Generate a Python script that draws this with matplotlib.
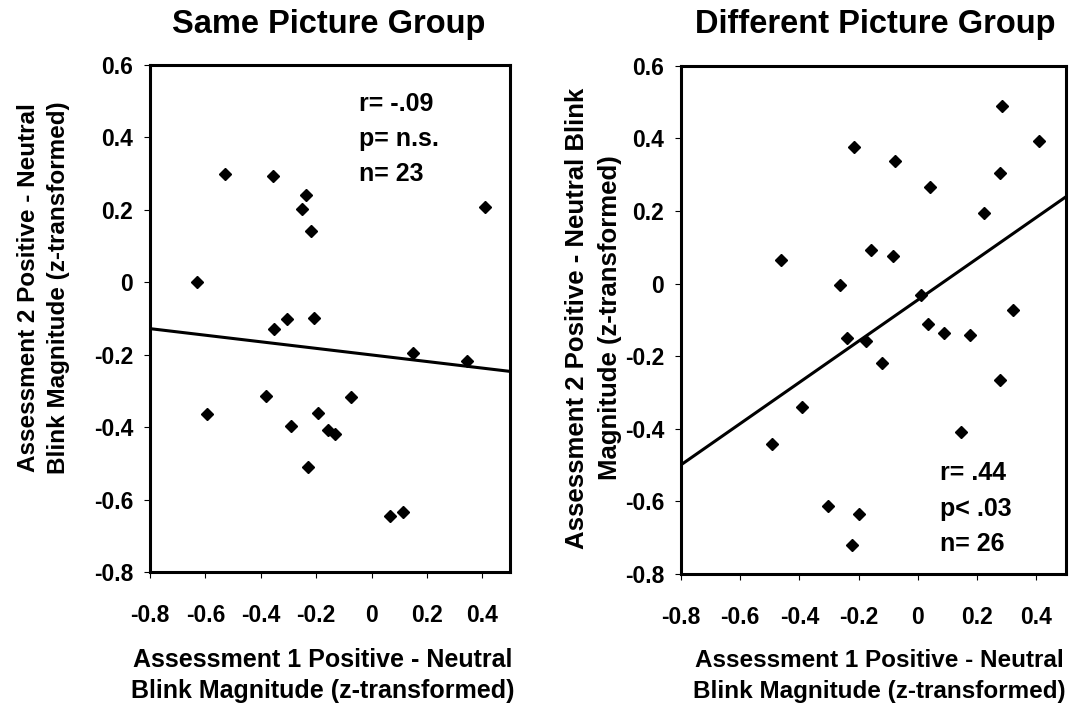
import matplotlib
matplotlib.use("Agg")
import matplotlib.pyplot as plt
import numpy as np
from matplotlib.ticker import FuncFormatter

plt.rcParams['font.family'] = ['Liberation Sans', 'DejaVu Sans']
plt.rcParams['font.weight'] = 'bold'

# Same picture group
same_x = [-0.528, -0.357, -0.236, -0.252, -0.218, 0.408, -0.630, -0.354, -0.304, -0.207, 0.149,
          0.344, -0.595, -0.381, -0.073, -0.194, -0.290, -0.156, -0.132, -0.230, 0.066, 0.114]
same_y = [0.300, 0.293, 0.241, 0.203, 0.143, 0.207, 0.000, -0.128, -0.102, -0.099, -0.194,
          -0.218, -0.363, -0.315, -0.316, -0.360, -0.397, -0.409, -0.420, -0.509, -0.644, -0.633]
same_fit = (-0.2006, -0.0908)   # intercept, slope
same_stats = ["r= -.09", "p= n.s.", "n= 23"]

# Different picture group
diff_x = [0.285, 0.409, -0.217, -0.079, 0.278, 0.041, 0.223, -0.157, -0.085, -0.463, -0.263, 0.010, 0.320,
          0.033, 0.087, 0.177, -0.240, -0.174, -0.120, 0.276, -0.392, 0.145, -0.492, -0.302, -0.199, -0.223]
diff_y = [0.488, 0.393, 0.377, 0.337, 0.303, 0.266, 0.194, 0.091, 0.076, 0.066, -0.005, -0.032, -0.074,
          -0.111, -0.136, -0.142, -0.150, -0.157, -0.219, -0.267, -0.339, -0.408, -0.442, -0.613, -0.636, -0.720]
diff_fit = (-0.045, 0.568)
diff_stats = ["r= .44", "p< .03", "n= 26"]

x_ticks = [-0.8, -0.6, -0.4, -0.2, 0.0, 0.2, 0.4]
y_ticks = [-0.8, -0.6, -0.4, -0.2, 0.0, 0.2, 0.4, 0.6]

fig = plt.figure(figsize=(10.77, 7.06), dpi=100)
ax1 = fig.add_axes([150 / 1077, 0.1898, 360 / 1077, 0.7181])
ax2 = fig.add_axes([681 / 1077, 0.187, 385 / 1077, 0.72])


def fmt(v, pos):
    if abs(v) < 1e-9:
        return "0"
    return "%.1f" % v


def setup(ax, xs, ys, fit, stats, sx, sy0):
    ax.plot(xs, ys, linestyle="none", marker="D", markersize=6.5, color="black")
    lx = np.array([-0.8, 0.5])
    ax.plot(lx, fit[0] + fit[1] * lx, color="black", linewidth=2.2)
    ax.set_xlim(-0.8, 0.5)
    ax.set_ylim(-0.8, 0.6)
    ax.set_xticks(x_ticks)
    ax.set_yticks(y_ticks)
    ax.xaxis.set_major_formatter(FuncFormatter(fmt))
    ax.yaxis.set_major_formatter(FuncFormatter(fmt))
    ax.tick_params(axis="x", direction="out", length=4, width=0.8, pad=19, labelsize=16.5)
    ax.tick_params(axis="y", direction="out", length=4, width=0.8, pad=8, labelsize=16.5)
    for s in ax.spines.values():
        s.set_linewidth(2.2)
    for i, t in enumerate(stats):
        ax.text(sx, sy0 - i * 0.097, t, fontsize=18, fontweight="bold", va="baseline")


setup(ax1, same_x, same_y, same_fit, same_stats, -0.046, 0.473)
setup(ax2, diff_x, diff_y, diff_fit, diff_stats, 0.076, -0.542)

# titles
fig.text(329 / 1077, 1 - 33 / 706, "Same Picture Group", ha="center", va="baseline",
         fontsize=23.5, fontweight="bold")
fig.text(875 / 1077, 1 - 33 / 706, "Different Picture Group", ha="center", va="baseline",
         fontsize=23.5, fontweight="bold")

# x labels
for cx, fs in ((323, 18), (879, 17.5)):
    fig.text(cx / 1077, 1 - 667 / 706, "Assessment 1 Positive - Neutral", ha="center",
             va="baseline", fontsize=fs, fontweight="bold")
    fig.text(cx / 1077, 1 - 698 / 706, "Blink Magnitude (z-transformed)", ha="center",
             va="baseline", fontsize=fs, fontweight="bold")

# y labels
fig.text(35 / 1077, 1 - 288 / 706, "Assessment 2 Positive - Neutral", rotation=90,
         rotation_mode="anchor", ha="center", va="baseline", fontsize=17.5, fontweight="bold")
fig.text(65 / 1077, 1 - 288 / 706, "Blink Magnitude (z-transformed)", rotation=90,
         rotation_mode="anchor", ha="center", va="baseline", fontsize=17.5, fontweight="bold")
fig.text(584 / 1077, 1 - 318 / 706, "Assessment 2 Positive - Neutral Blink", rotation=90,
         rotation_mode="anchor", ha="center", va="baseline", fontsize=18.5, fontweight="bold")
fig.text(617 / 1077, 1 - 318 / 706, "Magnitude (z-transformed)", rotation=90,
         rotation_mode="anchor", ha="center", va="baseline", fontsize=18.5, fontweight="bold")

fig.savefig("out.png", dpi=100)
